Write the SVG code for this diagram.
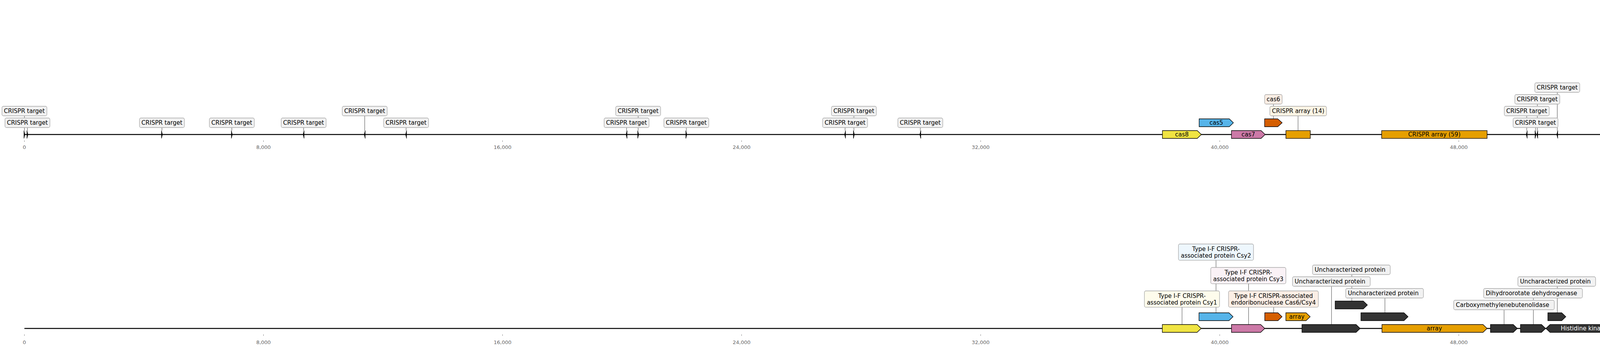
<svg xmlns="http://www.w3.org/2000/svg" width="5549" height="890" viewBox="0 0 5549 890">
<style>
.ax{stroke:#000;stroke-width:2.5;fill:none}
.tk{stroke:#888;stroke-width:1}
.tl{font-family:"DejaVu Sans",sans-serif;font-size:13px;fill:#666;text-anchor:middle}
.cn{stroke:#444;stroke-width:1;fill:none}
.ft{stroke:#000;stroke-width:1.3}
.k{fill:#333}
.t{fill:#000;stroke:#000;stroke-width:1}
.bx{stroke:#a8a8a8;stroke-width:1.3;fill:#f2f2f2}
.lb{font-family:"DejaVu Sans",sans-serif;font-size:15px;fill:#000}
.c{text-anchor:middle}
.w{fill:#fff}
</style>
<rect width="5549" height="890" fill="#fff"/>
<g id="axes">
<line class="ax" x1="62.5" y1="344" x2="5487" y2="344"/>
<line class="ax" x1="62.5" y1="840" x2="5487" y2="840"/>
<path class="tk" d="M62.5,359V363M674.5,359V363M1286.5,359V363M1898.5,359V363M2510.5,359V363M3122.5,359V363M3734.5,359V363M4346.5,359V363M4958.5,359V363M62.5,855V859M674.5,855V859M1286.5,855V859M1898.5,855V859M2510.5,855V859M3122.5,855V859M3734.5,855V859M4346.5,855V859M4958.5,855V859"/>
<text class="tl" x="62.5" y="380.5">0</text><text class="tl" x="674.5" y="380.5">8,000</text><text class="tl" x="1286.5" y="380.5">16,000</text><text class="tl" x="1898.5" y="380.5">24,000</text><text class="tl" x="2510.5" y="380.5">32,000</text><text class="tl" x="3122.5" y="380.5">40,000</text><text class="tl" x="3734.5" y="380.5">48,000</text><text class="tl" x="4346.5" y="380.5">56,000</text><text class="tl" x="4958.5" y="380.5">64,000</text>
<text class="tl" x="62.5" y="880">0</text><text class="tl" x="674.5" y="880">8,000</text><text class="tl" x="1286.5" y="880">16,000</text><text class="tl" x="1898.5" y="880">24,000</text><text class="tl" x="2510.5" y="880">32,000</text><text class="tl" x="3122.5" y="880">40,000</text><text class="tl" x="3734.5" y="880">48,000</text><text class="tl" x="4346.5" y="880">56,000</text><text class="tl" x="4958.5" y="880">64,000</text>
</g>
<g id="connectors">
<path class="cn" d="M62.5,296.25V334M70.2,326.25V334M414.6,326.25V334M593.5,326.25V334M777.3,326.25V334M933.7,296.25V334M1039.6,326.25V334M1604,326.25V334M1633.7,296.25V334M1757,326.25V334M2163.4,326.25V334M2186,296.25V334M2356,326.25V334M3908.5,296.25V334M3931,326.25V334M3935.5,266.25V334M3986.6,236.25V334M5487,326.25V334"/>
<path class="cn" d="M3260,266.25V304M3323,296.25V334M4681.5,326.25V334"/>
<path class="cn" d="M3026,785.7V830M3113,665.7V800M3196.4,725.7V830M3260.7,785.7V800M3408.7,732.25V830M3460.7,702.25V770M3545.4,762.25V800M3850.4,792.25V830M3925.4,762.25V830M3986.6,732.25V800M4395.8,822.25V830M4467.5,792.25V830M4553.7,762.25V830M4554,695.7V800M4622.6,635.7V830M4681.4,732.25V830M4743.6,672.25V800M4787.6,785.7V830M4917.4,726V830M4997.3,629.3V800M5032.5,672.25V770M5089.6,545.7V830M5170.3,756V800M5222.4,792.25V800M5288.2,702.25V830M5354.5,672.25V830M5403.3,762.25V830"/>
</g>
<g id="top-targets">
<g id="t1"><path class="t" d="M61.3,334L63.8,344L61.3,354Z"/><rect class="bx" x="5" y="271.75" width="115" height="24.5" rx="4"/><text class="lb" x="10" y="289.35">CRISPR target</text></g>
<g id="t2"><path class="t" d="M69,334L71.5,344L69,354Z"/><rect class="bx" x="12.7" y="301.75" width="115" height="24.5" rx="4"/><text class="lb" x="17.7" y="319.35">CRISPR target</text></g>
<g id="t3"><path class="t" d="M413.4,334L415.9,344L413.4,354Z"/><rect class="bx" x="357.1" y="301.75" width="115" height="24.5" rx="4"/><text class="lb" x="362.1" y="319.35">CRISPR target</text></g>
<g id="t4"><path class="t" d="M592.3,334L594.8,344L592.3,354Z"/><rect class="bx" x="536" y="301.75" width="115" height="24.5" rx="4"/><text class="lb" x="541" y="319.35">CRISPR target</text></g>
<g id="t5"><path class="t" d="M778.5,334L776,344L778.5,354Z"/><rect class="bx" x="719.8" y="301.75" width="115" height="24.5" rx="4"/><text class="lb" x="724.8" y="319.35">CRISPR target</text></g>
<g id="t6"><path class="t" d="M934.9,334L932.4,344L934.9,354Z"/><rect class="bx" x="876.2" y="271.75" width="115" height="24.5" rx="4"/><text class="lb" x="881.2" y="289.35">CRISPR target</text></g>
<g id="t7"><path class="t" d="M1040.8,334L1038.3,344L1040.8,354Z"/><rect class="bx" x="982.1" y="301.75" width="115" height="24.5" rx="4"/><text class="lb" x="987.1" y="319.35">CRISPR target</text></g>
<g id="t8"><path class="t" d="M1605.2,334L1602.7,344L1605.2,354Z"/><rect class="bx" x="1546.5" y="301.75" width="115" height="24.5" rx="4"/><text class="lb" x="1551.5" y="319.35">CRISPR target</text></g>
<g id="t9"><path class="t" d="M1632.5,334L1635,344L1632.5,354Z"/><rect class="bx" x="1576.2" y="271.75" width="115" height="24.5" rx="4"/><text class="lb" x="1581.2" y="289.35">CRISPR target</text></g>
<g id="t10"><path class="t" d="M1755.8,334L1758.3,344L1755.8,354Z"/><rect class="bx" x="1699.5" y="301.75" width="115" height="24.5" rx="4"/><text class="lb" x="1704.5" y="319.35">CRISPR target</text></g>
<g id="t11"><path class="t" d="M2164.6,334L2162.1,344L2164.6,354Z"/><rect class="bx" x="2105.9" y="301.75" width="115" height="24.5" rx="4"/><text class="lb" x="2110.9" y="319.35">CRISPR target</text></g>
<g id="t12"><path class="t" d="M2184.8,334L2187.3,344L2184.8,354Z"/><rect class="bx" x="2128.5" y="271.75" width="115" height="24.5" rx="4"/><text class="lb" x="2133.5" y="289.35">CRISPR target</text></g>
<g id="t13"><path class="t" d="M2357.2,334L2354.7,344L2357.2,354Z"/><rect class="bx" x="2298.5" y="301.75" width="115" height="24.5" rx="4"/><text class="lb" x="2303.5" y="319.35">CRISPR target</text></g>
<g id="t14"><path class="t" d="M3909.7,334L3907.2,344L3909.7,354Z"/><rect class="bx" x="3851" y="271.75" width="115" height="24.5" rx="4"/><text class="lb" x="3856" y="289.35">CRISPR target</text></g>
<g id="t15"><path class="t" d="M3929.8,334L3932.3,344L3929.8,354Z"/><rect class="bx" x="3873.5" y="301.75" width="115" height="24.5" rx="4"/><text class="lb" x="3878.5" y="319.35">CRISPR target</text></g>
<g id="t16"><path class="t" d="M3936.7,334L3934.2,344L3936.7,354Z"/><rect class="bx" x="3878" y="241.75" width="115" height="24.5" rx="4"/><text class="lb" x="3883" y="259.35">CRISPR target</text></g>
<g id="t17"><path class="t" d="M3987.8,334L3985.3,344L3987.8,354Z"/><rect class="bx" x="3929.1" y="211.75" width="115" height="24.5" rx="4"/><text class="lb" x="3934.1" y="229.35">CRISPR target</text></g>
<g id="t18"><path class="t" d="M5488.2,334L5485.7,344L5488.2,354Z"/><rect class="bx" x="5429.5" y="301.75" width="115" height="24.5" rx="4"/><text class="lb" x="5434.5" y="319.35">CRISPR target</text></g>
</g>
<g id="top-genes">
<g id="cas8"><path class="ft" fill="#f0e442" d="M2975.8,334H3064.9L3075.4,344L3064.9,354H2975.8Z"/><text class="lb c" x="3025.6" y="349.4">cas8</text></g>
<g id="cas5"><path class="ft" fill="#56b4e9" d="M3069.8,304H3147L3157.5,314L3147,324H3069.8Z"/><text class="lb c" x="3113.6" y="319.4">cas5</text></g>
<g id="cas7"><path class="ft" fill="#cc79a7" d="M3152.5,334H3228.3L3238.8,344L3228.3,354H3152.5Z"/><text class="lb c" x="3195.6" y="349.4">cas7</text></g>
<g id="cas6"><path class="ft" fill="#d55e00" d="M3237.4,304H3271L3282.3,314L3271,324H3237.4Z"/><rect class="bx" style="fill:#fbeee5" x="3237.5" y="241.75" width="44.8" height="24.5" rx="4"/><text class="lb c" x="3259.9" y="259.35">cas6</text></g>
<g id="array14"><rect class="ft" fill="#e69f00" x="3291.9" y="334" width="62.5" height="20"/><rect class="bx" style="fill:#fdf5e5" x="3250.8" y="271.75" width="145" height="24.5" rx="4"/><text class="lb c" x="3323.3" y="289.35">CRISPR array (14)</text></g>
<g id="array59"><rect class="ft" fill="#e69f00" x="3537" y="334" width="270" height="20"/><text class="lb c" x="3672" y="349.4">CRISPR array (59)</text></g>
<g id="transposase"><path class="ft" fill="#0072b2" d="M4652,334H4701.5L4712,344L4701.5,354H4652Z"/><rect class="bx" style="fill:#e5f1f7" x="4630.6" y="301.75" width="103" height="24.5" rx="4"/><text class="lb c" x="4682.1" y="319.35">transposase</text></g>
</g>
<g id="bottom-genes">
<g id="csy1"><path class="ft" fill="#f0e442" d="M2975.5,830H3064.5L3075,840L3064.5,850H2975.5Z"/><rect class="bx" style="fill:#fefcec" x="2929.6" y="744" width="192.4" height="41.7" rx="4"/><text class="lb c" x="3025.8" y="761.6">Type I-F CRISPR-</text><text class="lb c" x="3025.8" y="779">associated protein Csy1</text></g>
<g id="csy2"><path class="ft" fill="#56b4e9" d="M3069.4,800H3146.1L3156.6,810L3146.1,820H3069.4Z"/><rect class="bx" style="fill:#eef7fd" x="3016.8" y="624" width="192.2" height="41.7" rx="4"/><text class="lb c" x="3112.9" y="641.6">Type I-F CRISPR-</text><text class="lb c" x="3112.9" y="659">associated protein Csy2</text></g>
<g id="csy3"><path class="ft" fill="#cc79a7" d="M3152.6,830H3227.3L3237.8,840L3227.3,850H3152.6Z"/><rect class="bx" style="fill:#faf2f6" x="3099.5" y="684" width="192.3" height="41.7" rx="4"/><text class="lb c" x="3195.6" y="701.6">Type I-F CRISPR-</text><text class="lb c" x="3195.6" y="719">associated protein Csy3</text></g>
<g id="csy4"><path class="ft" fill="#d55e00" d="M3237.8,800H3271.5L3282,810L3271.5,820H3237.8Z"/><rect class="bx" style="fill:#fbeee5" x="3145" y="744" width="230" height="41.7" rx="4"/><text class="lb c" x="3260" y="761.6">Type I-F CRISPR-associated</text><text class="lb c" x="3260" y="779">endoribonuclease Cas6/Csy4</text></g>
<g id="array-small"><path class="ft" fill="#e69f00" d="M3291.8,800H3343.5L3354,810L3343.5,820H3291.8Z"/><text class="lb c" x="3320" y="815.4">array</text></g>
<g id="g3"><path class="ft k" d="M3333,830H3471.5L3482,840L3471.5,850H3333Z"/><rect class="bx" x="3308.7" y="707.75" width="199" height="24.5" rx="4"/><text class="lb" x="3314.2" y="725.35">Uncharacterized protein</text></g>
<g id="gl"><path class="ft k" d="M3418,770H3490L3500.5,780L3490,790H3418Z"/><rect class="bx" x="3360" y="677.75" width="199" height="24.5" rx="4"/><text class="lb" x="3365.5" y="695.35">Uncharacterized protein</text></g>
<g id="gd"><path class="ft k" d="M3484,800H3594.1L3604.6,810L3594.1,820H3484Z"/><rect class="bx" x="3445" y="737.75" width="199" height="24.5" rx="4"/><text class="lb" x="3450.5" y="755.35">Uncharacterized protein</text></g>
<g id="array-big"><path class="ft" fill="#e69f00" d="M3537.8,830H3796.5L3807,840L3796.5,850H3537.8Z"/><text class="lb c" x="3672" y="845.4">array</text></g>
<g id="g5"><path class="ft k" d="M3815.6,830H3873.9L3884.4,840L3873.9,850H3815.6Z"/><rect class="bx" x="3721.4" y="767.75" width="257.6" height="24.5" rx="4"/><text class="lb" x="3727" y="785.35">Carboxymethylenebutenolidase</text></g>
<g id="g6"><path class="ft k" d="M3892.4,830H3946.2L3956.7,840L3946.2,850H3892.4Z"/><rect class="bx" x="3798" y="737.75" width="253" height="24.5" rx="4"/><text class="lb" x="3803.5" y="755.35">Dihydroorotate dehydrogenase</text></g>
<g id="ge"><path class="ft k" d="M3962.5,800H3998L4008.5,810L3998,820H3962.5Z"/><rect class="bx" x="3885.7" y="707.75" width="199" height="24.5" rx="4"/><text class="lb" x="3891.2" y="725.35">Uncharacterized protein</text></g>
<g id="hk1"><path class="ft k" d="M4154.5,830H3968.1L3957.6,840L3968.1,850H4154.5Z"/><text class="lb c w" x="4055" y="845.4">Histidine kinase</text></g>
<g id="hk2"><path class="ft k" d="M4338.8,830H4165L4154.5,840L4165,850H4338.8Z"/><text class="lb c w" x="4246" y="845.4">Histidine kinase</text></g>
<g id="g9"><path class="ft k" d="M4431.4,830H4370.5L4360,840L4370.5,850H4431.4Z"/><rect class="bx" x="4322" y="797.75" width="146.3" height="24.5" rx="4"/><text class="lb" x="4327.5" y="815.35">Sulfurtransferase</text></g>
<g id="g10"><path class="ft k" d="M4501.9,830H4443.2L4432.7,840L4443.2,850H4501.9Z"/><rect class="bx" x="4367.6" y="767.75" width="199" height="24.5" rx="4"/><text class="lb" x="4373.1" y="785.35">Uncharacterized protein</text></g>
<g id="g11"><path class="ft k" d="M4597.3,830H4520.7L4510.2,840L4520.7,850H4597.3Z"/><rect class="bx" x="4489" y="737.75" width="128" height="24.5" rx="4"/><text class="lb c" x="4553" y="755.35">Rieske&#160; protein</text></g>
<g id="gf"><path class="ft k" d="M4511.9,800H4585.9L4596.4,810L4585.9,820H4511.9Z"/><rect class="bx" x="4484" y="654" width="140.6" height="41.7" rx="4"/><text class="lb c" x="4554.3" y="671.6">Pyrroline-5-carbo</text><text class="lb c" x="4554.3" y="689">xylate reductase</text></g>
<g id="g12"><path class="ft k" d="M4602.6,830H4632L4642.5,840L4632,850H4602.6Z"/><rect class="bx" x="4540.9" y="594" width="162.9" height="41.7" rx="4"/><text class="lb c" x="4622.4" y="611.6">Exodeoxyribonuclea</text><text class="lb c" x="4622.4" y="629">se 7 small subunit</text></g>
<g id="g13"><path class="ft k" d="M4651.5,830H4701L4711.5,840L4701,850H4651.5Z"/><rect class="bx" x="4589.8" y="707.75" width="182.8" height="24.5" rx="4"/><text class="lb" x="4595.3" y="725.35">Polyprenyl synthetase</text></g>
<g id="gg"><path class="ft k" d="M4755,800H4742L4731.5,810L4742,820H4755Z"/><rect class="bx" x="4643.3" y="647.75" width="199" height="24.5" rx="4"/><text class="lb" x="4648.8" y="665.35">Uncharacterized protein</text></g>
<g id="g14"><path class="ft k" d="M4714,830H4848.5L4859,840L4848.5,850H4714Z"/><rect class="bx" x="4663.2" y="744" width="247.1" height="41.7" rx="4"/><text class="lb c" x="4786.75" y="761.6">1-deoxy-D-</text><text class="lb c" x="4786.75" y="779">xylulose-5-phosphate synthase</text></g>
<g id="g15"><path class="ft k" d="M4872,830H4950L4960.5,840L4950,850H4872Z"/><rect class="bx" x="4814.5" y="684.3" width="203.5" height="41.7" rx="4"/><text class="lb c" x="4916.25" y="701.9">ABC transporter</text><text class="lb c" x="4916.25" y="719.3">substrate-binding protein</text></g>
<g id="gh"><path class="ft k" d="M4974,800H5009.9L5020.4,810L5009.9,820H4974Z"/><rect class="bx" x="4907.5" y="570" width="179.2" height="59.3" rx="4"/><text class="lb c" x="4997.1" y="587.6">C4-dicarboxylate ABC</text><text class="lb c" x="4997.1" y="605">transporter substrate-</text><text class="lb c" x="4997.1" y="622.4">binding protein</text></g>
<g id="gm"><path class="ft k" d="M5052.3,770H5022.3L5011.8,780L5022.3,790H5052.3Z"/><rect class="bx" x="4932.3" y="647.75" width="199" height="24.5" rx="4"/><text class="lb" x="4937.8" y="665.35">Uncharacterized protein</text></g>
<g id="g16"><path class="ft k" d="M5020,830H5148.2L5158.7,840L5148.2,850H5020Z"/><rect class="bx" x="5020" y="504" width="138.7" height="41.7" rx="4"/><text class="lb c" x="5089.35" y="521.6">C4-dicarboxylate</text><text class="lb c" x="5089.35" y="539">ABC transporter</text></g>
<g id="gi"><path class="ft k" d="M5144.6,800H5184.2L5194.7,810L5184.2,820H5144.6Z"/><rect class="bx" x="5054" y="714.3" width="232" height="41.7" rx="4"/><text class="lb c" x="5170" y="731.9">Deoxyuridine 5'-triphosphate</text><text class="lb c" x="5170" y="749.3">nucleotidohydrolase</text></g>
<g id="gj"><path class="ft k" d="M5244.4,800H5211.5L5201,810L5211.5,820H5244.4Z"/><rect class="bx" x="5121.4" y="767.75" width="201.6" height="24.5" rx="4"/><text class="lb" x="5126.9" y="785.35">Peptidylprolyl isomerase</text></g>
<g id="cupin"><path class="ft k" d="M5244.4,800H5322L5332.5,810L5322,820H5244.4Z"/><text class="lb c w" x="5285.8" y="815.4">Cupin</text></g>
<g id="g17"><path class="ft k" d="M5332.5,830H5254L5243.5,840L5254,850H5332.5Z"/><rect class="bx" x="5188.5" y="677.75" width="199" height="24.5" rx="4"/><text class="lb" x="5194" y="695.35">Uncharacterized protein</text></g>
<g id="g18"><path class="ft k" d="M5333.8,830H5363.5L5374,840L5363.5,850H5333.8Z"/><rect class="bx" x="5254.7" y="647.75" width="199" height="24.5" rx="4"/><text class="lb" x="5260.2" y="665.35">Uncharacterized protein</text></g>
<g id="g19"><path class="ft k" d="M5391,830H5404.8L5415.3,840L5404.8,850H5391Z"/><rect class="bx" x="5303.6" y="737.75" width="199" height="24.5" rx="4"/><text class="lb" x="5309.1" y="755.35">Uncharacterized protein</text></g>
</g>
</svg>
